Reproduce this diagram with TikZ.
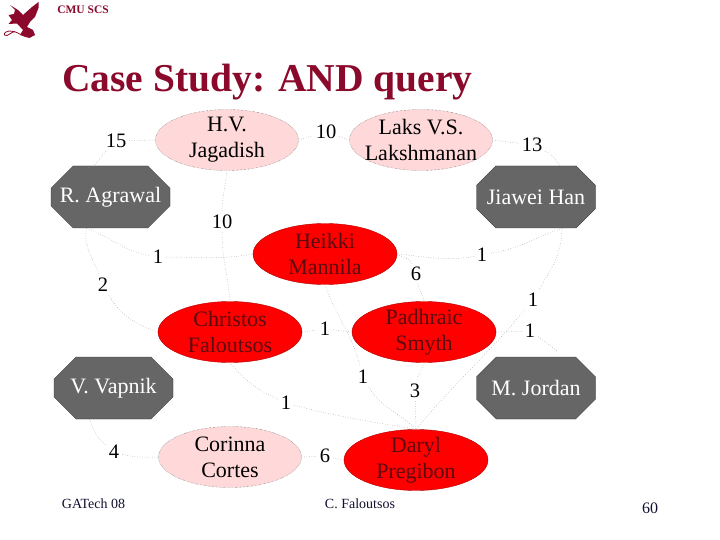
\documentclass[tikz,border=0pt]{standalone}
\usepackage{fontspec}
\setmainfont{Liberation Serif}
\usetikzlibrary{shapes.geometric,shapes.misc,calc}
\definecolor{titlered}{HTML}{8B0A2C}
\definecolor{pinkfill}{HTML}{FFD9D9}
\definecolor{redtext}{HTML}{5A0A10}
\definecolor{octfill}{HTML}{666666}
\definecolor{navytext}{HTML}{101030}
\tikzset{
  x=1pt,y=-1pt,
  pinknode/.style={ellipse,fill=pinkfill,draw=black!75,densely dotted,line width=.35pt,minimum width=143pt,minimum height=61pt,inner xsep=-30pt,inner ysep=-20pt,align=center,font=\fontsize{22}{26}\selectfont,text=black},
  rednode/.style={ellipse,fill=red,draw=red!70!black,line width=.4pt,minimum width=144pt,minimum height=61pt,inner xsep=-30pt,inner ysep=-20pt,align=center,font=\fontsize{22}{26}\selectfont,text=redtext},
  octnode/.style={chamfered rectangle,chamfered rectangle xsep=36pt,chamfered rectangle ysep=17pt,fill=octfill,draw=black!80,line width=.3pt,minimum width=119pt,minimum height=62pt,inner xsep=-15pt,inner ysep=-5pt,font=\fontsize{22}{26}\selectfont,text=white},
  weight/.style={inner sep=3pt,font=\fontsize{20.5}{24}\selectfont,text=black},
  link/.style={draw=black!40,dotted,line width=.5pt},
  foot/.style={inner sep=0pt,font=\fontsize{14}{16}\selectfont,text=navytext}
}
\begin{document}
\begin{tikzpicture}
\useasboundingbox (0,0) rectangle (720,540);
\fill[white] (0,0) rectangle (720,540);
% logo
\fill[titlered] (10,5) -- (18,10) -- (23,15) -- (32,7) -- (38.5,2) -- (38.5,8) -- (35,17) -- (30,22)
  -- (27,27) -- (33,30) -- (35,35) -- (30,37.7) -- (20,35) -- (23,30) -- (17,23.5) -- (8.5,24)
  -- (12,20) -- (8.5,15) -- (14,14) -- (15,10) -- cycle;
\draw[titlered,line width=.8pt] (30,37.5) .. controls (22,37) and (16,30) .. (9,31) .. controls (3,32) and (3,36) .. (7,35.5) .. controls (11,35) and (11,31) .. (16,32);
\node[inner sep=0pt,font=\fontsize{11.5}{13}\selectfont\bfseries,text=titlered] (cmu) at (83,10) {CMU SCS};
\node[anchor=base west,inner sep=0pt,font=\fontsize{39.5}{44}\selectfont\bfseries,text=titlered] (title) at (62,91.5) {Case Study: AND query};
% people
\node[pinknode] (hv) at (227,140) {\raisebox{-4pt}{H.V.}\\\raisebox{-4pt}{Jagadish}};
\node[pinknode] (laks) at (421,140) {\raisebox{-2pt}{Laks V.S.}\\\raisebox{-2pt}{Lakshmanan}};
\node[octnode] (agrawal) at (110.5,197) {\raisebox{-4pt}{R. Agrawal}};
\node[octnode] (han) at (536,197) {\raisebox{-1pt}{Jiawei Han}};
\node[rednode] (heikki) at (325,254) {Heikki\\Mannila};
\node[rednode] (christos) at (230,332) {Christos\\Faloutsos};
\node[rednode] (padhraic) at (424,332) {Padhraic\\Smyth};
\node[octnode] (vapnik) at (113.5,388) {\raisebox{-3pt}{V. Vapnik}};
\node[octnode] (jordan) at (536,388) {\raisebox{-1pt}{M. Jordan}};
\node[pinknode] (corinna) at (230,457) {Corinna\\Cortes};
\node[rednode] (daryl) at (416,460) {Daryl\\Pregibon};
% weights
\node[weight] (w15) at (116,141) {15};
\node[weight] (w10a) at (326,132) {10};
\node[weight] (w13) at (532,145) {13};
\node[weight] (w10b) at (222,222) {10};
\node[weight] (w1a) at (158,257) {1};
\node[weight] (w1b) at (482,255) {1};
\node[weight] (w6a) at (416,274) {6};
\node[weight] (w2) at (103,285) {2};
\node[weight] (w1c) at (533,300) {1};
\node[weight] (w1d) at (325,329) {1};
\node[weight] (w1e) at (530,331) {1};
\node[weight] (w1f) at (363,377) {1};
\node[weight] (w3) at (415,391) {3};
\node[weight] (w1g) at (286,403) {1};
\node[weight] (w4) at (114,452) {4};
\node[weight] (w6b) at (325,456) {6};
% anchors on octagon corners
\coordinate (agN) at ($(agrawal.north)+(-24,0)$);
\coordinate (agS) at ($(agrawal.south)+(-24,0)$);
\coordinate (hanN) at ($(han.north)+(24,0)$);
\coordinate (hanS) at ($(han.south)+(26,0)$);
\coordinate (jorN) at ($(jordan.north)+(22,-5)$);
\coordinate (vapS) at ($(vapnik.south)+(-24,0)$);
% links
\draw[link] (agN) to[out=-60,in=225] (w15);
\draw[link] (w15) -- (hv.west);
\draw[link] (hv.east) -- (w10a);
\draw[link] (w10a) -- (laks.west);
\draw[link] (laks.east) -- (w13);
\draw[link] (w13) to[out=-25,in=125] (hanN);
\draw[link] (hv.south) to[out=-95,in=90] (w10b);
\draw[link] (w10b) to[out=-90,in=95] (christos.north);
\draw[link] (agS) to[out=-20,in=170] (w1a);
\draw[link] (w1a) to[out=0,in=190] (heikki.west);
\draw[link] (agS) to[out=-100,in=110] (w2);
\draw[link] (w2) to[out=-60,in=160] (christos.west);
\draw[link] (hanS) to[out=-160,in=10] (w1b);
\draw[link] (w1b) to[out=190,in=-5] (heikki.east);
\draw[link] (heikki.east) to[out=-40,in=110] (w6a);
\draw[link] (w6a) to[out=-80,in=95] (padhraic.north);
\draw[link] (christos.east) -- (w1d);
\draw[link] (w1d) -- (padhraic.west);
\draw[link] (hanS) to[out=-90,in=60] (w1c);
\draw[link] (w1c) to[out=230,in=50] (daryl.north);
\draw[link] (padhraic.east) -- (w1e);
\draw[link] (w1e) to[out=-35,in=140] (jorN);
\draw[link] (heikki.south) to[out=-70,in=105] (w1f);
\draw[link] (w1f) to[out=-60,in=135] (daryl.north);
\draw[link] (padhraic.south) to[out=-105,in=80] (w3);
\draw[link] (w3) -- (daryl.north);
\draw[link] (christos.south) to[out=-50,in=155] (w1g);
\draw[link] (w1g) to[out=-15,in=170] (daryl.north);
\draw[link] (vapS) to[out=-70,in=140] (w4);
\draw[link] (w4) to[out=-15,in=180] (corinna.west);
\draw[link] (corinna.east) -- (w6b);
\draw[link] (w6b) -- (daryl.west);
% footer
\node[foot] (gat) at (93.5,504) {GATech 08};
\node[foot] (cf) at (360,504) {C. Faloutsos};
\node[foot,font=\fontsize{16}{18}\selectfont] (pg) at (650,508) {60};
\end{tikzpicture}
\end{document}
